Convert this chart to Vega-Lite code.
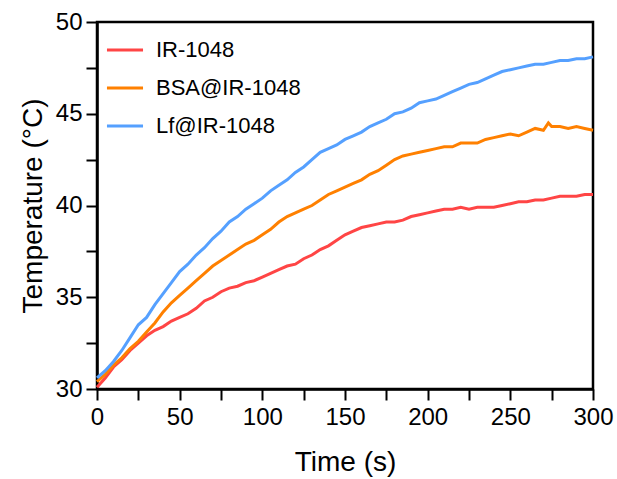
{
  "$schema": "https://vega.github.io/schema/vega-lite/v6.json",
  "width": 496,
  "height": 367,
  "autosize": {"type": "none"},
  "padding": {"left": 97, "top": 22, "right": 24, "bottom": 90},
  "background": "white",
  "config": {
    "font": "Liberation Sans",
    "view": {"stroke": "#000000", "strokeWidth": 2.5},
    "axis": {
      "domainColor": "#000000", "domainWidth": 2.5, "tickColor": "#000000", "tickWidth": 2,
      "labelFont": "Liberation Sans", "labelFontSize": 24, "labelColor": "#000000",
      "titleFont": "Liberation Sans", "titleFontSize": 28, "titleFontWeight": "normal", "titleColor": "#000000",
      "grid": false, "labelFlush": false, "labelOverlap": false
    }
  },
  "data": {"values": [
    {"t":0,"s":"IR-1048","T":30.1},{"t":5,"s":"IR-1048","T":30.6},{"t":10,"s":"IR-1048","T":31.2},{"t":15,"s":"IR-1048","T":31.6},{"t":20,"s":"IR-1048","T":32.1},{"t":25,"s":"IR-1048","T":32.5},{"t":30,"s":"IR-1048","T":32.9},{"t":35,"s":"IR-1048","T":33.2},{"t":40,"s":"IR-1048","T":33.4},{"t":45,"s":"IR-1048","T":33.7},{"t":50,"s":"IR-1048","T":33.9},{"t":55,"s":"IR-1048","T":34.1},{"t":60,"s":"IR-1048","T":34.4},{"t":65,"s":"IR-1048","T":34.8},{"t":70,"s":"IR-1048","T":35.0},{"t":75,"s":"IR-1048","T":35.3},{"t":80,"s":"IR-1048","T":35.5},{"t":85,"s":"IR-1048","T":35.6},{"t":90,"s":"IR-1048","T":35.8},{"t":95,"s":"IR-1048","T":35.9},{"t":100,"s":"IR-1048","T":36.1},{"t":105,"s":"IR-1048","T":36.3},{"t":110,"s":"IR-1048","T":36.5},{"t":115,"s":"IR-1048","T":36.7},{"t":120,"s":"IR-1048","T":36.8},{"t":125,"s":"IR-1048","T":37.1},{"t":130,"s":"IR-1048","T":37.3},{"t":135,"s":"IR-1048","T":37.6},{"t":140,"s":"IR-1048","T":37.8},{"t":145,"s":"IR-1048","T":38.1},{"t":150,"s":"IR-1048","T":38.4},{"t":155,"s":"IR-1048","T":38.6},{"t":160,"s":"IR-1048","T":38.8},{"t":165,"s":"IR-1048","T":38.9},{"t":170,"s":"IR-1048","T":39.0},{"t":175,"s":"IR-1048","T":39.1},{"t":180,"s":"IR-1048","T":39.1},{"t":185,"s":"IR-1048","T":39.2},{"t":190,"s":"IR-1048","T":39.4},{"t":195,"s":"IR-1048","T":39.5},{"t":200,"s":"IR-1048","T":39.6},{"t":205,"s":"IR-1048","T":39.7},{"t":210,"s":"IR-1048","T":39.8},{"t":215,"s":"IR-1048","T":39.8},{"t":220,"s":"IR-1048","T":39.9},{"t":225,"s":"IR-1048","T":39.8},{"t":230,"s":"IR-1048","T":39.9},{"t":235,"s":"IR-1048","T":39.9},{"t":240,"s":"IR-1048","T":39.9},{"t":245,"s":"IR-1048","T":40.0},{"t":250,"s":"IR-1048","T":40.1},{"t":255,"s":"IR-1048","T":40.2},{"t":260,"s":"IR-1048","T":40.2},{"t":265,"s":"IR-1048","T":40.3},{"t":270,"s":"IR-1048","T":40.3},{"t":275,"s":"IR-1048","T":40.4},{"t":280,"s":"IR-1048","T":40.5},{"t":285,"s":"IR-1048","T":40.5},{"t":290,"s":"IR-1048","T":40.5},{"t":295,"s":"IR-1048","T":40.6},{"t":300,"s":"IR-1048","T":40.6},
    {"t":0,"s":"BSA@IR-1048","T":30.4},{"t":5,"s":"BSA@IR-1048","T":30.8},{"t":10,"s":"BSA@IR-1048","T":31.3},{"t":15,"s":"BSA@IR-1048","T":31.7},{"t":20,"s":"BSA@IR-1048","T":32.2},{"t":25,"s":"BSA@IR-1048","T":32.6},{"t":30,"s":"BSA@IR-1048","T":33.1},{"t":35,"s":"BSA@IR-1048","T":33.6},{"t":40,"s":"BSA@IR-1048","T":34.2},{"t":45,"s":"BSA@IR-1048","T":34.7},{"t":50,"s":"BSA@IR-1048","T":35.1},{"t":55,"s":"BSA@IR-1048","T":35.5},{"t":60,"s":"BSA@IR-1048","T":35.9},{"t":65,"s":"BSA@IR-1048","T":36.3},{"t":70,"s":"BSA@IR-1048","T":36.7},{"t":75,"s":"BSA@IR-1048","T":37.0},{"t":80,"s":"BSA@IR-1048","T":37.3},{"t":85,"s":"BSA@IR-1048","T":37.6},{"t":90,"s":"BSA@IR-1048","T":37.9},{"t":95,"s":"BSA@IR-1048","T":38.1},{"t":100,"s":"BSA@IR-1048","T":38.4},{"t":105,"s":"BSA@IR-1048","T":38.7},{"t":110,"s":"BSA@IR-1048","T":39.1},{"t":115,"s":"BSA@IR-1048","T":39.4},{"t":120,"s":"BSA@IR-1048","T":39.6},{"t":125,"s":"BSA@IR-1048","T":39.8},{"t":130,"s":"BSA@IR-1048","T":40.0},{"t":135,"s":"BSA@IR-1048","T":40.3},{"t":140,"s":"BSA@IR-1048","T":40.6},{"t":145,"s":"BSA@IR-1048","T":40.8},{"t":150,"s":"BSA@IR-1048","T":41.0},{"t":155,"s":"BSA@IR-1048","T":41.2},{"t":160,"s":"BSA@IR-1048","T":41.4},{"t":165,"s":"BSA@IR-1048","T":41.7},{"t":170,"s":"BSA@IR-1048","T":41.9},{"t":175,"s":"BSA@IR-1048","T":42.2},{"t":180,"s":"BSA@IR-1048","T":42.5},{"t":185,"s":"BSA@IR-1048","T":42.7},{"t":190,"s":"BSA@IR-1048","T":42.8},{"t":195,"s":"BSA@IR-1048","T":42.9},{"t":200,"s":"BSA@IR-1048","T":43.0},{"t":205,"s":"BSA@IR-1048","T":43.1},{"t":210,"s":"BSA@IR-1048","T":43.2},{"t":215,"s":"BSA@IR-1048","T":43.2},{"t":220,"s":"BSA@IR-1048","T":43.4},{"t":225,"s":"BSA@IR-1048","T":43.4},{"t":230,"s":"BSA@IR-1048","T":43.4},{"t":235,"s":"BSA@IR-1048","T":43.6},{"t":240,"s":"BSA@IR-1048","T":43.7},{"t":245,"s":"BSA@IR-1048","T":43.8},{"t":250,"s":"BSA@IR-1048","T":43.9},{"t":255,"s":"BSA@IR-1048","T":43.8},{"t":260,"s":"BSA@IR-1048","T":44.0},{"t":265,"s":"BSA@IR-1048","T":44.2},{"t":270,"s":"BSA@IR-1048","T":44.1},{"t":273,"s":"BSA@IR-1048","T":44.5},{"t":275,"s":"BSA@IR-1048","T":44.3},{"t":280,"s":"BSA@IR-1048","T":44.3},{"t":285,"s":"BSA@IR-1048","T":44.2},{"t":290,"s":"BSA@IR-1048","T":44.3},{"t":295,"s":"BSA@IR-1048","T":44.2},{"t":300,"s":"BSA@IR-1048","T":44.1},
    {"t":0,"s":"Lf@IR-1048","T":30.6},{"t":5,"s":"Lf@IR-1048","T":31.0},{"t":10,"s":"Lf@IR-1048","T":31.5},{"t":15,"s":"Lf@IR-1048","T":32.1},{"t":20,"s":"Lf@IR-1048","T":32.8},{"t":25,"s":"Lf@IR-1048","T":33.5},{"t":30,"s":"Lf@IR-1048","T":33.9},{"t":35,"s":"Lf@IR-1048","T":34.6},{"t":40,"s":"Lf@IR-1048","T":35.2},{"t":45,"s":"Lf@IR-1048","T":35.8},{"t":50,"s":"Lf@IR-1048","T":36.4},{"t":55,"s":"Lf@IR-1048","T":36.8},{"t":60,"s":"Lf@IR-1048","T":37.3},{"t":65,"s":"Lf@IR-1048","T":37.7},{"t":70,"s":"Lf@IR-1048","T":38.2},{"t":75,"s":"Lf@IR-1048","T":38.6},{"t":80,"s":"Lf@IR-1048","T":39.1},{"t":85,"s":"Lf@IR-1048","T":39.4},{"t":90,"s":"Lf@IR-1048","T":39.8},{"t":95,"s":"Lf@IR-1048","T":40.1},{"t":100,"s":"Lf@IR-1048","T":40.4},{"t":105,"s":"Lf@IR-1048","T":40.8},{"t":110,"s":"Lf@IR-1048","T":41.1},{"t":115,"s":"Lf@IR-1048","T":41.4},{"t":120,"s":"Lf@IR-1048","T":41.8},{"t":125,"s":"Lf@IR-1048","T":42.1},{"t":130,"s":"Lf@IR-1048","T":42.5},{"t":135,"s":"Lf@IR-1048","T":42.9},{"t":140,"s":"Lf@IR-1048","T":43.1},{"t":145,"s":"Lf@IR-1048","T":43.3},{"t":150,"s":"Lf@IR-1048","T":43.6},{"t":155,"s":"Lf@IR-1048","T":43.8},{"t":160,"s":"Lf@IR-1048","T":44.0},{"t":165,"s":"Lf@IR-1048","T":44.3},{"t":170,"s":"Lf@IR-1048","T":44.5},{"t":175,"s":"Lf@IR-1048","T":44.7},{"t":180,"s":"Lf@IR-1048","T":45.0},{"t":185,"s":"Lf@IR-1048","T":45.1},{"t":190,"s":"Lf@IR-1048","T":45.3},{"t":195,"s":"Lf@IR-1048","T":45.6},{"t":200,"s":"Lf@IR-1048","T":45.7},{"t":205,"s":"Lf@IR-1048","T":45.8},{"t":210,"s":"Lf@IR-1048","T":46.0},{"t":215,"s":"Lf@IR-1048","T":46.2},{"t":220,"s":"Lf@IR-1048","T":46.4},{"t":225,"s":"Lf@IR-1048","T":46.6},{"t":230,"s":"Lf@IR-1048","T":46.7},{"t":235,"s":"Lf@IR-1048","T":46.9},{"t":240,"s":"Lf@IR-1048","T":47.1},{"t":245,"s":"Lf@IR-1048","T":47.3},{"t":250,"s":"Lf@IR-1048","T":47.4},{"t":255,"s":"Lf@IR-1048","T":47.5},{"t":260,"s":"Lf@IR-1048","T":47.6},{"t":265,"s":"Lf@IR-1048","T":47.7},{"t":270,"s":"Lf@IR-1048","T":47.7},{"t":275,"s":"Lf@IR-1048","T":47.8},{"t":280,"s":"Lf@IR-1048","T":47.9},{"t":285,"s":"Lf@IR-1048","T":47.9},{"t":290,"s":"Lf@IR-1048","T":48.0},{"t":295,"s":"Lf@IR-1048","T":48.0},{"t":300,"s":"Lf@IR-1048","T":48.1}
  ]},
  "mark": {"type": "line", "strokeWidth": 3},
  "encoding": {
    "x": {
      "field": "t", "type": "quantitative",
      "scale": {"domain": [0, 300], "nice": false, "zero": false},
      "axis": {
        "title": "Time (s)",
        "values": [0, 25, 50, 75, 100, 125, 150, 175, 200, 225, 250, 275, 300],
        "labelExpr": "datum.value % 50 === 0 ? datum.label : ''",
        "tickSize": 11, "labelPadding": 5, "titlePadding": 19
      }
    },
    "y": {
      "field": "T", "type": "quantitative",
      "scale": {"domain": [30, 50], "nice": false, "zero": false},
      "axis": {
        "title": "Temperature (°C)",
        "values": [30, 32.5, 35, 37.5, 40, 42.5, 45, 47.5, 50],
        "labelExpr": "datum.value % 5 === 0 ? datum.label : ''",
        "tickSize": 11, "labelPadding": 4, "titlePadding": 8
      }
    },
    "color": {
      "field": "s", "type": "nominal",
      "scale": {"domain": ["IR-1048", "BSA@IR-1048", "Lf@IR-1048"], "range": ["#FF4545", "#FF8000", "#55A0FF"]},
      "legend": {
        "title": null, "orient": "top-left", "offset": 0,
        "symbolType": "stroke", "symbolSize": 1300, "symbolStrokeWidth": 3,
        "labelFont": "Liberation Sans", "labelFontSize": 22, "labelColor": "black",
        "labelOffset": 11, "rowPadding": 7, "padding": 8
      }
    }
  }
}
